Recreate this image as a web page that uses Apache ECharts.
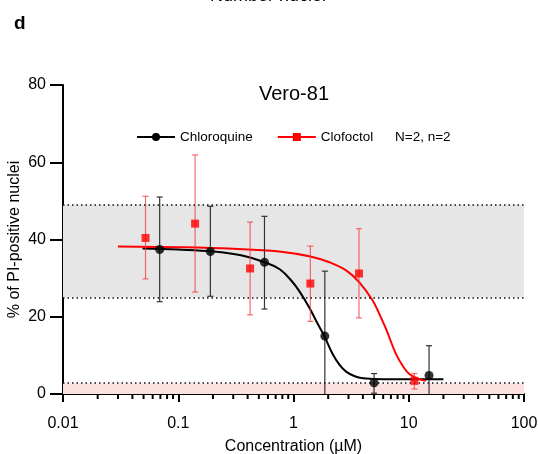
<!DOCTYPE html>
<html>
<head>
<meta charset="utf-8">
<script src="https://cdn.jsdelivr.net/npm/echarts@6/dist/echarts.min.js"></script>
<style>
  html, body { margin: 0; padding: 0; background: #fff; }
  #chart { width: 538px; height: 454px; }
</style>
</head>
<body>
<div id="chart"></div>
<script>
  // measured points (concentration in µM, % PI-positive nuclei)
  var cqX = [0.069, 0.19, 0.56, 1.87, 5.0, 15.0]
  var cqY = [37.4, 36.9, 34.1, 15.0, 2.9, 4.8]
  var cqHi = [51.0, 48.6, 46.0, 31.8, 5.3, 12.5]
  var cqLo = [23.9, 25.3, 22.0, -4, 0.2, -4]

  var cfX = [0.052, 0.14, 0.42, 1.4, 3.7, 11.2]
  var cfY = [40.4, 44.1, 32.5, 28.6, 31.2, 3.4]
  var cfHi = [51.2, 61.9, 44.5, 38.3, 42.8, 5.3]
  var cfLo = [29.8, 26.4, 20.5, 18.8, 19.7, 1.3]

  // fitted curves
  var cqCurveX = [0.049, 0.1, 0.2, 0.35, 0.56, 0.76, 0.98, 1.13, 1.37, 1.6, 1.85, 2.18, 2.5, 2.86, 3.4, 4.0, 6, 10, 20]
  var cqCurveY = [37.7, 37.4, 36.9, 35.9, 34.1, 32.3, 29.0, 26.5, 22.4, 18.5, 15.0, 10.4, 7.6, 5.8, 4.6, 4.1, 3.8, 3.8, 3.8]
  var cfCurveX = [0.03, 0.1, 0.3, 0.75, 1.4, 2.05, 2.86, 3.73, 4.86, 5.6, 6.34, 7.74, 9, 10.1, 12, 14.1]
  var cfCurveY = [38.2, 38.0, 37.6, 36.9, 35.6, 34.1, 32.0, 28.9, 24.2, 20.5, 16.9, 10.4, 7.0, 5.2, 4.0, 3.4]

  // reference bands
  var grayBand = [25, 49]
  var pinkBand = [0, 2.8]

  var yTicks = [0, 20, 40, 60, 80]

  function zip(a, b, c) {
    return a.map(function (v, i) { return c ? [v, b[i], c[i]] : [v, b[i]] })
  }

  var minorTicks = []
  for (var k = -2; k < 2; k++) {
    for (var m = 2; m < 10; m++) minorTicks.push([m * Math.pow(10, k), 0])
  }

  var font = 'Liberation Sans, Arial, sans-serif'

  function errorBar(color) {
    return function (params, api) {
      var x = api.value(0)
      var top = api.coord([x, api.value(2)])
      var bot = api.coord([x, api.value(1)])
      var w = 3
      var st = { stroke: color, lineWidth: 1.2 }
      return {
        type: 'group',
        children: [
          { type: 'line', shape: { x1: top[0], y1: top[1], x2: bot[0], y2: bot[1] }, style: st },
          { type: 'line', shape: { x1: top[0] - w, y1: top[1], x2: top[0] + w, y2: top[1] }, style: st },
          { type: 'line', shape: { x1: bot[0] - w, y1: bot[1], x2: bot[0] + w, y2: bot[1] }, style: st }
        ]
      }
    }
  }

  var chart = echarts.init(document.getElementById('chart'))
  chart.setOption({
    animation: false,
    textStyle: { fontFamily: font },
    title: [
      {
        text: 'Number nuclei',
        left: 263, top: -18, textAlign: 'center',
        textStyle: { fontSize: 18, fontWeight: 'normal', color: '#000', fontFamily: font }
      },
      {
        text: 'd',
        left: 9, top: 9,
        textStyle: { fontSize: 19, fontWeight: 'bold', color: '#000', fontFamily: font }
      },
      {
        text: 'Vero-81',
        left: 289, top: 79, textAlign: 'center',
        textStyle: { fontSize: 20, fontWeight: 'normal', color: '#000', fontFamily: font }
      }
    ],
    graphic: [
      {
        type: 'text', left: 395, top: 130,
        style: { text: 'N=2, n=2', fontSize: 13.5, fill: '#000', fontFamily: font }
      }
    ],
    legend: {
      data: ['Chloroquine', 'Clofoctol'],
      left: 131, top: 125,
      itemWidth: 38, itemHeight: 10, itemGap: 24,
      textStyle: { fontSize: 13.5, color: '#000', fontFamily: font }
    },
    grid: { left: 63, right: 14, top: 85, bottom: 60, outerBoundsMode: 'none', containLabel: false },
    xAxis: {
      type: 'log',
      logBase: 10,
      min: 0.01,
      max: 100,
      name: 'Concentration (µM)',
      nameLocation: 'middle',
      nameGap: 45,
      nameTextStyle: { fontSize: 16, color: '#000', fontFamily: font },
      axisLine: { lineStyle: { color: '#000', width: 2 } },
      axisTick: { length: 8, lineStyle: { color: '#000', width: 2 } },
      axisLabel: { fontSize: 16, color: '#000', margin: 22, fontFamily: font },
      splitLine: { show: false }
    },
    yAxis: {
      type: 'value',
      min: 0,
      max: 80,
      interval: 20,
      name: '% of PI-positive nuclei',
      nameLocation: 'middle',
      nameGap: 40,
      nameMoveOverlap: false,
      nameTextStyle: { fontSize: 16, color: '#000', fontFamily: font },
      axisLine: { show: true, lineStyle: { color: '#000', width: 2 } },
      axisTick: { show: true, length: 13, lineStyle: { color: '#000', width: 2 } },
      axisLabel: {
        fontSize: 16, color: '#000', margin: 17, fontFamily: font,
        formatter: function (v) { return yTicks.indexOf(v) >= 0 ? String(v) : '' }
      },
      splitLine: { show: false }
    },
    series: [
      {
        name: 'Chloroquine',
        type: 'line',
        z: 3,
        data: zip(cqCurveX, cqCurveY),
        smooth: 0.4,
        symbol: 'circle',
        symbolSize: 8,
        showSymbol: false,
        itemStyle: { color: '#000' },
        lineStyle: { color: '#000', width: 2 },
        markArea: {
          silent: true,
          data: [
            [{ yAxis: grayBand[0], itemStyle: { color: '#e6e6e6' } }, { yAxis: grayBand[1] }],
            [{ yAxis: pinkBand[0], itemStyle: { color: '#fde0e0' } }, { yAxis: pinkBand[1] }]
          ]
        },
        markLine: {
          silent: true,
          symbol: 'none',
          label: { show: false },
          lineStyle: { color: '#111', type: [1.5, 3], width: 1.5 },
          data: [{ yAxis: grayBand[0] }, { yAxis: grayBand[1] }, { yAxis: pinkBand[1] }]
        }
      },
      {
        name: 'Clofoctol',
        type: 'line',
        z: 3,
        data: zip(cfCurveX, cfCurveY),
        smooth: 0.4,
        symbol: 'rect',
        symbolSize: 8,
        showSymbol: false,
        itemStyle: { color: '#ff0000' },
        lineStyle: { color: '#ff0000', width: 2 }
      },
      {
        type: 'custom',
        z: 4,
        clip: true,
        silent: true,
        data: zip(cfX, cfLo, cfHi),
        renderItem: errorBar('rgba(240,60,60,0.75)')
      },
      {
        type: 'custom',
        z: 4,
        clip: true,
        silent: true,
        data: zip(cqX, cqLo, cqHi),
        renderItem: errorBar('#333')
      },
      {
        type: 'scatter',
        z: 5,
        data: zip(cfX, cfY),
        symbol: 'rect',
        symbolSize: 8,
        itemStyle: { color: '#ff0000' }
      },
      {
        type: 'scatter',
        z: 5,
        data: zip(cqX, cqY),
        symbol: 'circle',
        symbolSize: 9,
        itemStyle: { color: '#000' }
      },
      {
        type: 'custom',
        z: 6,
        clip: false,
        silent: true,
        data: minorTicks,
        renderItem: function (params, api) {
          var p = api.coord([api.value(0), 0])
          return {
            type: 'line',
            shape: { x1: p[0], y1: p[1], x2: p[0], y2: p[1] + 5 },
            style: { stroke: '#000', lineWidth: 2 }
          }
        }
      }
    ]
  })
</script>
</body>
</html>
